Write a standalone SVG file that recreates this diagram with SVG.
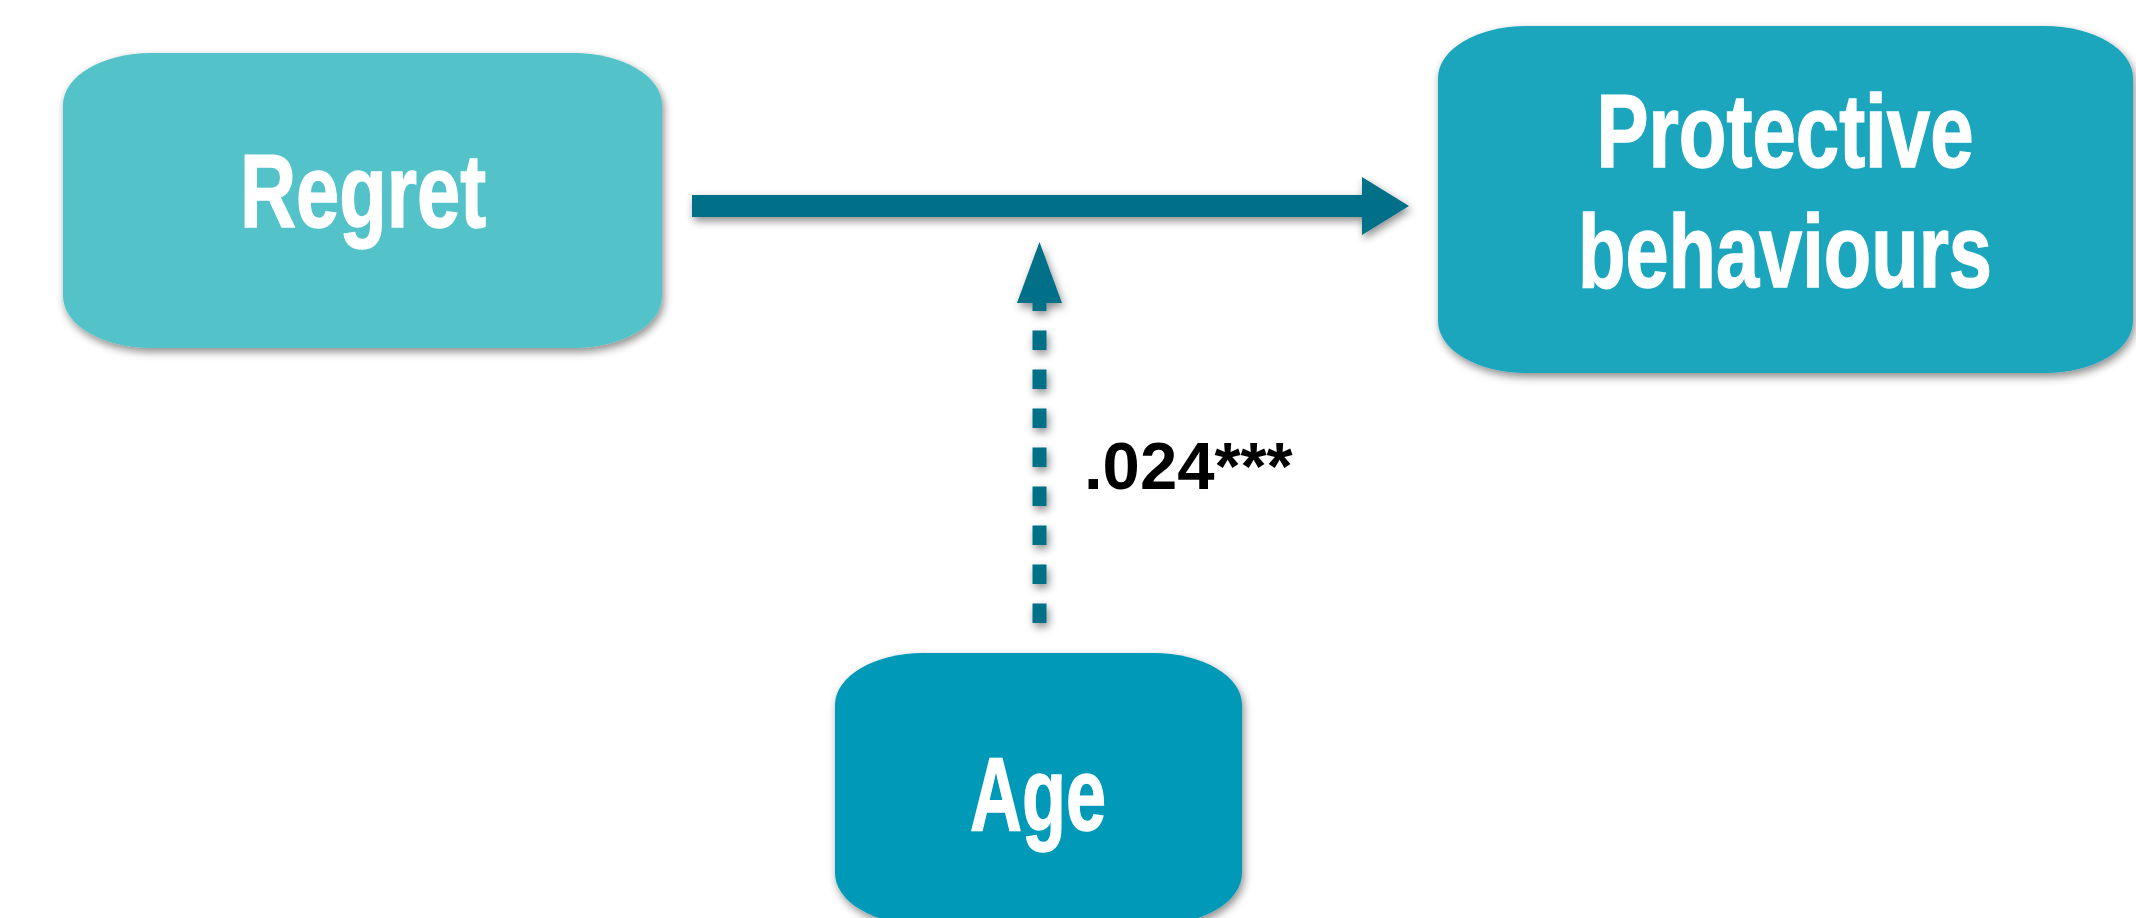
<svg xmlns="http://www.w3.org/2000/svg" width="2136" height="918" viewBox="0 0 2136 918">
<defs>
<filter id="sh" x="-10%" y="-10%" width="120%" height="130%">
<feDropShadow dx="2" dy="4" stdDeviation="4" flood-color="#000" flood-opacity="0.45"/>
</filter>
<style>
.lbl{font-family:"Liberation Sans",Arial,sans-serif;font-weight:bold;fill:#fff;stroke:#fff;stroke-width:1.5;font-size:104px;text-anchor:middle}
.num{font-family:"Liberation Sans",Arial,sans-serif;font-weight:bold;fill:#000;font-size:67px}
.conn{stroke:#066F88;fill:none}
</style>
</defs>
<rect width="2136" height="918" fill="#fff"/>
<g id="connectors" filter="url(#sh)">
<line class="conn" x1="692" y1="206" x2="1366" y2="206" stroke-width="22"/>
<polygon points="1362,177 1409,206 1362,235" fill="#066F88"/>
<line class="conn" x1="1039.5" y1="623" x2="1039.5" y2="302" stroke-width="14" stroke-dasharray="19.5 19.5"/>
<polygon points="1017,303 1039.5,242 1062,303" fill="#066F88"/>
</g>
<text class="num" x="1084" y="489">.024***</text>
<g id="regret">
<rect x="63" y="53" width="599" height="295" rx="88" ry="52" fill="#53C3C9" filter="url(#sh)"/>
<text class="lbl" x="363" y="227" textLength="246" lengthAdjust="spacingAndGlyphs">Regret</text>
</g>
<g id="protective">
<rect x="1438" y="26" width="695" height="347" rx="88" ry="52" fill="#1BA6BD" filter="url(#sh)"/>
<text class="lbl" x="1785" y="167" textLength="377" lengthAdjust="spacingAndGlyphs">Protective</text>
<text class="lbl" x="1785" y="287" textLength="414" lengthAdjust="spacingAndGlyphs">behaviours</text>
</g>
<g id="age">
<rect x="835" y="653" width="407" height="272" rx="88" ry="52" fill="#0099B8" filter="url(#sh)"/>
<text class="lbl" x="1038" y="830" textLength="136" lengthAdjust="spacingAndGlyphs">Age</text>
</g>
</svg>
